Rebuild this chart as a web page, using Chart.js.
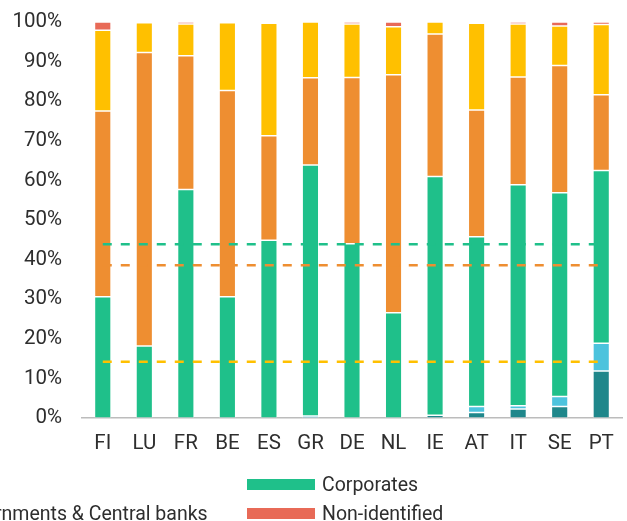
<!DOCTYPE html>
<html lang="en">
<head>
  <meta charset="UTF-8" />
  <title>Holders by country</title>
  <style>
    body {
      margin: 0;
      padding: 0;
      background: #fff;
      font-family: Roboto, "DejaVu Sans", sans-serif;
      color: #2e2e2e;
      overflow: hidden;
    }
    #wrap {
      position: relative;
      width: 627px;
      height: 521px;
      overflow: hidden;
    }
    #legend {
      position: absolute;
      left: 0;
      top: 0;
      width: 627px;
      height: 521px;
      pointer-events: none;
    }
    .item {
      position: absolute;
      display: flex;
      align-items: center;
      white-space: nowrap;
      font-size: 19.5px;
      height: 24px;
    }
    .item .sw {
      width: 68px;
      height: 11px;
      margin-right: 7px;
    }
  </style>
  <script src="https://cdn.jsdelivr.net/npm/chart.js"></script>
</head>
<body>
  <div id="wrap">
    <canvas id="chart" width="627" height="521"></canvas>
    <div id="legend"></div>
  </div>

  <script>
    const countries = ['FI', 'LU', 'FR', 'BE', 'ES', 'GR', 'DE', 'NL', 'IE', 'AT', 'IT', 'SE', 'PT'];

    // shares per holder sector, in %
    const governments = [0, 0, 0, 0, 0, 0, 0, 0, 0.7, 1.4, 2.3, 2.9, 11.9];
    const households  = [0, 0, 0, 0, 0, 0.5, 0, 0, 0, 1.5, 0.8, 2.5, 7.0];
    const corporates  = [30.6, 18.2, 57.7, 30.6, 44.9, 63.4, 44.0, 26.6, 60.3, 42.9, 55.8, 51.5, 43.6];
    const funds       = [46.9, 74.1, 33.8, 52.1, 26.4, 22.0, 42.0, 60.1, 36.0, 32.0, 27.2, 32.1, 19.1];
    const insurers    = [20.4, 7.5, 8.0, 17.1, 28.4, 14.1, 13.5, 12.1, 3.0, 21.9, 13.4, 10.0, 17.8];
    const unknown     = [2.1, 0.2, 0.5, 0.2, 0.3, 0, 0.5, 1.2, 0, 0.3, 0.5, 1.0, 0.6];

    // cross-country averages (dashed lines)
    const avgCorporates = 43.9;
    const avgFunds = 38.6;
    const avgInsurers = 14.2;

    const yTicks = [0, 10, 20, 30, 40, 50, 60, 70, 80, 90, 100];

    const colors = {
      governments: '#1f878b',
      households: '#4cc3dd',
      corporates: '#1fc08a',
      funds: '#ee8e31',
      insurers: '#ffc000',
      unknown: '#e86a57'
    };

    function barSet(label, data, color) {
      return {
        type: 'bar',
        label: label,
        data: data,
        backgroundColor: color,
        borderColor: 'rgba(255,255,255,0.25)',
        borderWidth: 0.75,
        borderSkipped: false,
        barPercentage: 0.4,
        categoryPercentage: 1.0,
        stack: 'share',
        order: 2
      };
    }

    function avgSet(label, value, color) {
      return {
        type: 'line',
        label: label,
        data: countries.map(() => value),
        borderColor: color,
        borderWidth: 2.5,
        borderDash: [9, 9],
        pointRadius: 0,
        fill: false,
        stack: label,
        order: 1
      };
    }

    const ctx = document.getElementById('chart').getContext('2d');

    new Chart(ctx, {
      data: {
        labels: countries,
        datasets: [
          barSet('Governments & Central banks', governments, colors.governments),
          barSet('Households', households, colors.households),
          barSet('Corporates', corporates, colors.corporates),
          barSet('Investment funds', funds, colors.funds),
          barSet('Insurance & pension funds', insurers, colors.insurers),
          barSet('Non-identified', unknown, colors.unknown),
          avgSet('avg-corporates', avgCorporates, colors.corporates),
          avgSet('avg-funds', avgFunds, colors.funds),
          avgSet('avg-insurers', avgInsurers, colors.insurers)
        ]
      },
      options: {
        responsive: false,
        animation: false,
        layout: {
          padding: { top: 22, right: 5, bottom: 63, left: 0 }
        },
        plugins: {
          legend: { display: false },
          tooltip: { enabled: false }
        },
        scales: {
          x: {
            stacked: true,
            grid: { display: false, drawTicks: false },
            border: { display: true, color: '#bcbcbc', width: 1.5 },
            ticks: {
              color: '#2e2e2e',
              padding: 14,
              font: { family: 'Roboto', size: 20.5 }
            },
            afterFit: scale => {
              scale.height = 40;
              scale.paddingLeft = 0;
              scale.paddingRight = 0;
            }
          },
          y: {
            stacked: true,
            min: 0,
            max: 100,
            grid: { display: false, drawTicks: false },
            border: { display: false },
            afterBuildTicks: scale => {
              scale.ticks = yTicks.map(v => ({ value: v }));
            },
            ticks: {
              color: '#2e2e2e',
              padding: 20,
              font: { family: 'Roboto', size: 20.5 },
              callback: v => v + '%'
            },
            afterFit: scale => {
              scale.width = 82;
              scale.paddingTop = 0;
              scale.paddingBottom = 0;
            }
          }
        }
      }
    });

    // legend entries visible under the plot
    const legendEntries = [
      { label: 'Governments & Central banks', color: colors.governments, col: 0, row: 1 },
      { label: 'Corporates', color: colors.corporates, col: 1, row: 0 },
      { label: 'Non-identified', color: colors.unknown, col: 1, row: 1 }
    ];

    const legendEl = document.getElementById('legend');
    legendEntries.forEach(e => {
      const div = document.createElement('div');
      div.className = 'item';
      const sw = document.createElement('span');
      sw.className = 'sw';
      sw.style.background = e.color;
      const txt = document.createElement('span');
      txt.textContent = e.label;
      div.appendChild(sw);
      div.appendChild(txt);
      div.style.top = (472 + e.row * 29) + 'px';
      legendEl.appendChild(div);
      if (e.col === 1) {
        div.style.left = '247px';
      } else {
        // first column: text ends at x = 208
        div.style.left = (208 - div.offsetWidth) + 'px';
      }
    });
  </script>
</body>
</html>
